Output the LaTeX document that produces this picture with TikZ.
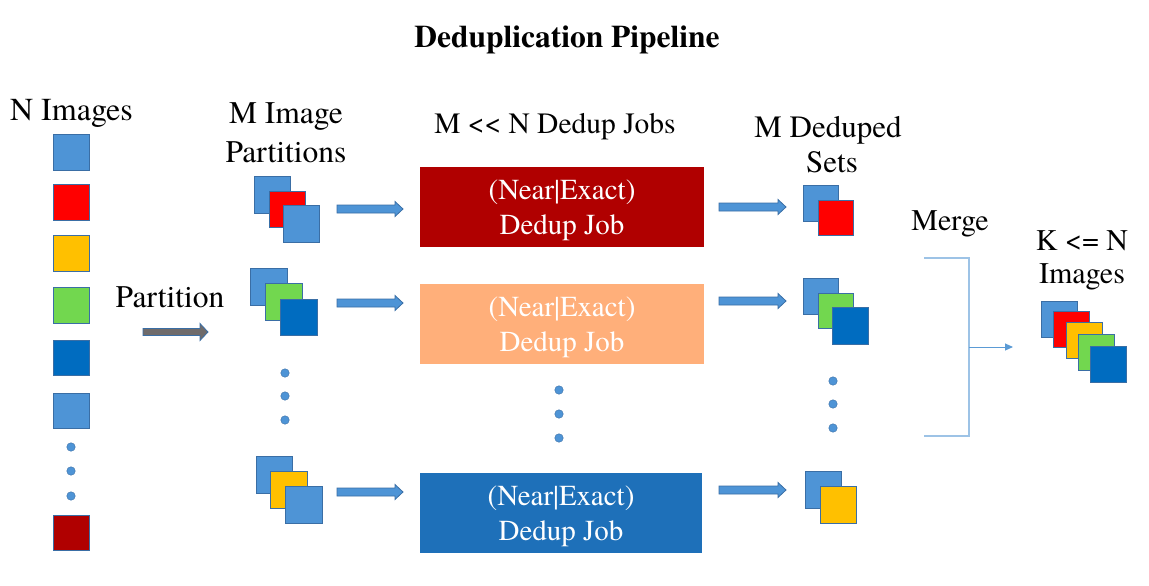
\documentclass[tikz,border=0pt]{standalone}
\usepackage{fontspec}
\setmainfont{texgyretermes}[Extension=.otf, UprightFont=*-regular, BoldFont=*-bold, ItalicFont=*-italic, BoldItalicFont=*-bolditalic, Ligatures=NoCommon]
\usetikzlibrary{arrows.meta}
\definecolor{lblue}{HTML}{4E94D6}
\definecolor{outl}{HTML}{3A6EA5}
\definecolor{ired}{HTML}{FF0000}
\definecolor{iyellow}{HTML}{FFC000}
\definecolor{igreen}{HTML}{72D74F}
\definecolor{idblue}{HTML}{006CC0}
\definecolor{idred}{HTML}{B00000}
\definecolor{jobred}{HTML}{B00000}
\definecolor{joborange}{HTML}{FFAF7A}
\definecolor{jobblue}{HTML}{1E70B9}
\definecolor{grayarrow}{HTML}{6F6B6B}
\definecolor{bracketc}{HTML}{9DC3E6}
\definecolor{mergearrow}{HTML}{5B9BD5}
% #1 x start, #2 x end, #3 y, #4 fill, #5 shaft half-height, #6 head half-height
\newcommand\blockarrow[6]{%
  \draw[draw=outl, fill=#4, line width=0.8] (#1,#3-#5) -- (#2-8,#3-#5) -- (#2-8,#3-#6) -- (#2,#3) -- (#2-8,#3+#6) -- (#2-8,#3+#5) -- (#1,#3+#5) -- cycle;}
\begin{document}
\begin{tikzpicture}[x=1pt,y=-1pt,
  img/.style={draw=outl, line width=1, minimum size=35.5, inner sep=0, outer sep=0},
  dot/.style={circle, fill=lblue, draw=outl, line width=0.4, minimum size=8.5, inner sep=0},
  lbl/.style={anchor=base, inner sep=0, font=\fontsize{30}{34}\selectfont},
  jobbox/.style={minimum height=80, inner sep=0, outer sep=0},
  jobtext/.style={anchor=base, inner sep=0, text=white, font=\fontsize{29}{35}\selectfont}
]
\useasboundingbox (0,0) rectangle (1149,586);
\fill[white] (0,0) rectangle (1149,586);

% title
\node[lbl, font=\bfseries\fontsize{31.5}{36}\selectfont] (title) at (567,48) {Deduplication Pipeline};

% N images column
\node[lbl, font=\fontsize{32}{36}\selectfont] (nimg) at (71.5,120) {N Images};
\node[img, fill=lblue] (n1) at (71.5,152.5) {};
\node[img, fill=ired] (n2) at (71.5,202.5) {};
\node[img, fill=iyellow] (n3) at (71.5,253.5) {};
\node[img, fill=igreen] (n4) at (71.5,305.5) {};
\node[img, fill=idblue] (n5) at (71.5,358) {};
\node[img, fill=lblue] (n6) at (71.5,411) {};
\node[dot] (nd1) at (71,447) {};
\node[dot] (nd2) at (71,471) {};
\node[dot] (nd3) at (71,496) {};
\node[img, fill=idred] (n7) at (71.5,533) {};

% partition
\node[lbl, font=\fontsize{31.5}{35}\selectfont] (partl) at (170,307) {Partition};
\blockarrow{143}{208}{332}{grayarrow}{3.5}{8.5}

% M image partitions
\node[lbl, font=\fontsize{31.5}{35}\selectfont] (mip1) at (286,123) {M Image};
\node[lbl, font=\fontsize{31.5}{35}\selectfont] (mip2) at (286,162) {Partitions};

\node[img, fill=lblue, minimum size=36.5] (p11) at (272.5,195) {};
\node[img, fill=ired, minimum size=36.5] (p12) at (287.5,209.5) {};
\node[img, fill=lblue, minimum size=36.5] (p13) at (301.5,224) {};

\node[img, fill=lblue, minimum size=36.5] (p21) at (269,287) {};
\node[img, fill=igreen, minimum size=36.5] (p22) at (284,302) {};
\node[img, fill=idblue, minimum size=36.5] (p23) at (299,317.5) {};

\node[dot] (pd1) at (285,373) {};
\node[dot] (pd2) at (285,396) {};
\node[dot] (pd3) at (285,420) {};

\node[img, fill=lblue, minimum size=36.5] (p31) at (274.5,475) {};
\node[img, fill=iyellow, minimum size=36.5] (p32) at (289,490) {};
\node[img, fill=lblue, minimum size=36.5] (p33) at (304,505) {};

% arrows to jobs
\blockarrow{337}{403}{209}{lblue}{4}{7.5}
\blockarrow{337}{403}{303}{lblue}{4}{7.5}
\blockarrow{337}{403}{492}{lblue}{4}{7.5}

% jobs
\node[lbl, font=\fontsize{29.5}{34}\selectfont] (jobsl) at (555,133) {M <{}< N Dedup Jobs};
\node[jobbox, fill=jobred, minimum width=284] (job1) at (562,206.5) {};
\node[jobtext] (job1a) at (562,199.5) {(Near|Exact)};
\node[jobtext] (job1b) at (562,234.5) {Dedup Job};
\node[jobbox, fill=joborange, minimum width=284] (job2) at (562,324) {};
\node[jobtext] (job2a) at (562,316) {(Near|Exact)};
\node[jobtext] (job2b) at (562,351) {Dedup Job};
\node[jobbox, fill=jobblue, minimum width=282] (job3) at (561,512.5) {};
\node[jobtext] (job3a) at (561,505) {(Near|Exact)};
\node[jobtext] (job3b) at (561,540) {Dedup Job};
\node[dot] (jd1) at (559,390) {};
\node[dot] (jd2) at (559,414) {};
\node[dot] (jd3) at (559,438) {};

% arrows to sets
\blockarrow{719}{786}{207}{lblue}{4}{7.5}
\blockarrow{719}{786}{301}{lblue}{4}{7.5}
\blockarrow{719}{786}{490}{lblue}{4}{7.5}

% deduped sets
\node[lbl, font=\fontsize{31}{35}\selectfont] (mds1) at (828,137) {M Deduped};
\node[lbl, font=\fontsize{31}{35}\selectfont] (mds2) at (832,172) {Sets};
\node[img, fill=lblue] (s11) at (821,203.5) {};
\node[img, fill=ired] (s12) at (836,218) {};
\node[img, fill=lblue] (s21) at (821,296.5) {};
\node[img, fill=igreen] (s22) at (836,311) {};
\node[img, fill=idblue, minimum size=36.5] (s23) at (850.5,326) {};
\node[dot] (sd1) at (833,381) {};
\node[dot] (sd2) at (833,404) {};
\node[dot] (sd3) at (833,428) {};
\node[img, fill=lblue, minimum size=36.5] (s31) at (823.5,490) {};
\node[img, fill=iyellow, minimum size=36.5] (s32) at (838.5,505) {};

% merge
\node[lbl] (merge) at (950,230) {Merge};
\coordinate (bt) at (924,258);
\coordinate (bb) at (924,436);
\coordinate (bm) at (969,347);
\coordinate (bend) at (1013,347);
\draw[bracketc, line width=1.3] (bt) -| (969,436) -- (bb);
\draw[mergearrow, line width=1, -{Triangle[length=8pt,width=7pt]}] (bm) -- (bend);

% result
\node[lbl] (k1) at (1082,250) {K <= N};
\node[lbl] (k2) at (1082,283) {Images};
\node[img, fill=lblue, minimum size=36] (r1) at (1059,319.5) {};
\node[img, fill=ired, minimum size=36] (r2) at (1071,329) {};
\node[img, fill=iyellow, minimum size=36] (r3) at (1084,340) {};
\node[img, fill=igreen, minimum size=36] (r4) at (1096,352) {};
\node[img, fill=idblue, minimum size=36] (r5) at (1108.5,364) {};
\end{tikzpicture}
\end{document}
